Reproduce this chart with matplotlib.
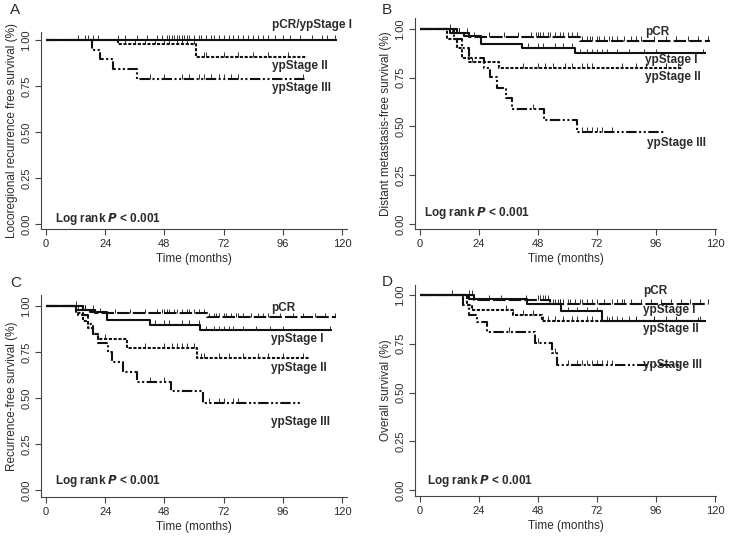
import matplotlib
matplotlib.use("Agg")
import matplotlib.pyplot as plt
import numpy as np

plt.rcParams['font.family'] = ['Liberation Sans', 'DejaVu Sans']

# ---- panel A: locoregional recurrence free survival
a_pcr_t = [0, 118]
a_pcr_s = [1.0, 1.0]
a_pcr_c = [13, 16, 17, 19, 21, 29, 32, 37, 41, 45, 47, 49, 50, 51, 52, 53, 54, 55, 56, 57, 58,
           60, 62, 63, 65, 67, 68, 70, 72, 74, 76, 78, 80, 82, 84, 86, 88, 90, 93, 96, 99, 103,
           108, 112, 114, 117]
a_ii_t = [0, 29, 61, 106]
a_ii_s = [1.0, 0.977, 0.909, 0.909]
a_ii_c = [32, 36, 40, 44, 48, 50, 53, 55, 57, 60, 64, 65, 72, 78, 84, 90, 98]
a_iii_t = [0, 18.5, 22, 27, 37, 105]
a_iii_s = [1.0, 0.948, 0.895, 0.842, 0.79, 0.79]
a_iii_c = [42, 48, 55, 58, 62, 64, 67, 70, 72, 75, 78, 104]

# ---- panel B: distant metastasis-free survival
b_pcr_t = [0, 15, 20, 65, 118]
b_pcr_s = [1.0, 0.98, 0.96, 0.94, 0.94]
b_pcr_c = [12, 15, 16, 19, 20, 28, 34, 40, 45, 47, 48, 49, 50, 52, 53, 55, 57, 58, 60, 62, 64,
           66, 68, 69, 70, 72, 73, 75, 77, 78, 80, 83, 86, 88, 90, 95, 100, 104, 109, 113, 117]
b_i_t = [0, 12, 18, 25, 41.5, 63, 116.5]
b_i_s = [1.0, 0.98, 0.962, 0.925, 0.904, 0.875, 0.875]
b_i_c = [13, 16, 22, 44, 48, 50, 55, 58, 62, 65, 68, 70, 72, 74, 76, 80, 85, 91, 96, 115]
b_ii_t = [0, 11, 15, 17, 20, 32, 107]
b_ii_s = [1.0, 0.95, 0.90, 0.85, 0.83, 0.80, 0.80]
b_ii_c = [21, 42, 48, 51, 54, 59, 62, 66, 68, 70, 82, 88, 92, 100, 105]
b_iii_t = [0, 14, 17, 20, 26, 28.5, 31.2, 35, 37.3, 50.6, 64, 99.5]
b_iii_s = [1.0, 0.95, 0.90, 0.85, 0.80, 0.752, 0.696, 0.645, 0.59, 0.533, 0.472, 0.472]
b_iii_c = [46, 66, 68, 70, 72, 74, 78]

# ---- panel C: recurrence-free survival
c_pcr_t = [0, 15, 20, 65.4, 117.6]
c_pcr_s = [1.0, 0.98, 0.96, 0.939, 0.939]
c_pcr_c = b_pcr_c
c_i_t = [0, 12, 18, 24.6, 42.2, 62.4, 115.8]
c_i_s = [1.0, 0.98, 0.966, 0.922, 0.898, 0.868, 0.868]
c_i_c = [13, 16, 22, 44, 48, 50, 55, 58, 62, 65, 68, 70, 72, 74, 76, 80, 85, 91, 96, 115]
c_ii_t = [0, 12, 15, 17, 19, 21, 32.7, 61.1, 106.7]
c_ii_s = [1.0, 0.96, 0.92, 0.88, 0.85, 0.822, 0.772, 0.717, 0.717]
c_ii_c = [24, 40, 48, 51, 53, 55, 57, 60, 63, 64, 70, 74, 80, 86, 90, 96, 104]
c_iii_t = [0, 13, 17, 19, 21, 25, 26.6, 31.1, 36.8, 50.5, 63.5, 103]
c_iii_s = [1.0, 0.95, 0.90, 0.85, 0.80, 0.75, 0.696, 0.641, 0.587, 0.536, 0.473, 0.473]
c_iii_c = [42, 48, 66, 70, 72, 76, 78]

# ---- panel D: overall survival
d_pcr_t = [0, 22, 53, 117]
d_pcr_s = [1.0, 0.975, 0.955, 0.955]
d_pcr_c = [13, 20, 21, 28, 33, 43, 48, 49, 50, 51, 52, 54, 55, 56, 57, 58, 60, 61, 63, 65, 66,
           68, 70, 72, 75, 78, 80, 82, 83, 86, 90, 94, 98, 102, 106, 110, 114, 117]
d_i_t = [0, 20, 43.5, 57.2, 74, 116.2]
d_i_s = [1.0, 0.981, 0.955, 0.916, 0.865, 0.865]
d_i_c = [57, 60, 64, 68, 72, 77, 82, 88, 95, 104, 113]
d_ii_t = [0, 19, 21, 38, 49.8, 115.5]
d_ii_s = [1.0, 0.95, 0.925, 0.899, 0.868, 0.868]
d_ii_c = [21, 35, 38, 42, 46, 50, 52, 55, 58, 62, 64, 68, 70, 74, 76, 78, 80, 85, 88, 95, 100,
          104, 114]
d_iii_t = [0, 17.5, 20, 23.3, 27.1, 46.7, 53.8, 55.9, 105.4]
d_iii_s = [1.0, 0.95, 0.899, 0.862, 0.81, 0.754, 0.703, 0.643, 0.643]
d_iii_c = [36, 48, 55, 60, 64, 66, 68, 70, 72, 74, 76, 78, 104]

ylabels = ["Locoregional recurrence free survival (%)", "Distant metastasis-free survival (%)",
           "Recurrence-free survival (%)", "Overall survival (%)"]

solid = '-'
dashed = (0, (6, 1.5))
dotted = (0, (1.5, 0.8))
dashdot = (0, (5, 1.2, 1, 1.2, 1, 1.2))

ink = '#111111'
txt = '#2b2b2b'

fig = plt.figure(figsize=(7.29, 5.37), dpi=100)
W, H = 729.0, 537.0


def make_axes(left, right, top, bottom, y1px, y0px, x0px, x120px):
    ax = fig.add_axes([left / W, 1 - bottom / H, (right - left) / W, (bottom - top) / H])
    ppu = (y0px - y1px)
    ppm = (x120px - x0px) / 120.0
    ax.set_ylim((y0px - bottom) / ppu, 1 + (y1px - top) / ppu)
    ax.set_xlim((left - x0px) / ppm, 120 + (right - x120px) / ppm)
    return ax


def draw_curve(ax, t, s, cens, ls, tick_h):
    ax.step(t, s, where='post', color=ink, lw=1.5, ls=ls, solid_capstyle='butt')
    t = np.array(t)
    s = np.array(s)
    c = np.array(cens)
    idx = np.searchsorted(t, c, side='right') - 1
    cy = s[idx]
    ax.vlines(c, cy, cy + tick_h, color=ink, lw=0.6)


def style(ax, name, ylabel, name_xy):
    for sp in ['top', 'right']:
        ax.spines[sp].set_visible(False)
    for sp in ['left', 'bottom']:
        ax.spines[sp].set_color('#444444')
        ax.spines[sp].set_linewidth(0.8)
    ax.set_xticks([0, 24, 48, 72, 96, 120])
    ax.set_yticks([0, 0.25, 0.5, 0.75, 1.0])
    ax.set_yticklabels(['0.00', '0.25', '0.50', '0.75', '1.00'], rotation=90, va='center')
    ax.tick_params(direction='out', length=4, width=0.8, colors='#444444', labelsize=8,
                   labelcolor=txt, pad=3)
    ax.set_xlabel("Time (months)", fontsize=8.5, color=txt, labelpad=3)
    ax.set_ylabel(ylabel, fontsize=8.5, color=txt, labelpad=2)
    fig.text(name_xy[0] / W, 1 - name_xy[1] / H, name, fontsize=11, color=txt,
             ha='left', va='center')


def label(ax, x, y, s):
    ax.text(x, y, s, fontsize=8.5, fontweight='bold', color=txt, ha='left', va='center',
            clip_on=False)


def logrank(ax, x, y):
    ax.text(x, y, "Log rank $\\bfit{P}$ < 0.001", fontsize=8.5, fontweight='bold', color=txt,
            ha='left', va='center')


# A
axA = make_axes(41, 347, 32, 229, 40, 224, 46, 342)
draw_curve(axA, a_pcr_t, a_pcr_s, a_pcr_c, solid, 0.025)
draw_curve(axA, a_ii_t, a_ii_s, a_ii_c, dotted, 0.025)
draw_curve(axA, a_iii_t, a_iii_s, a_iii_c, dashdot, 0.025)
style(axA, "A", ylabels[0], (10, 10))
label(axA, 91.5, 1.08, "pCR/ypStage I")
label(axA, 91.5, 0.859, "ypStage II")
label(axA, 91.5, 0.739, "ypStage III")
logrank(axA, 3.6, 0.025)

# B
axB = make_axes(415, 716, 18, 229, 29, 224, 420, 715)
draw_curve(axB, b_pcr_t, b_pcr_s, b_pcr_c, dashed, 0.024)
draw_curve(axB, b_i_t, b_i_s, b_i_c, solid, 0.024)
draw_curve(axB, b_ii_t, b_ii_s, b_ii_c, dotted, 0.024)
draw_curve(axB, b_iii_t, b_iii_s, b_iii_c, dashdot, 0.024)
style(axB, "B", ylabels[1], (382, 10))
label(axB, 91.4, 0.986, "pCR")
label(axB, 91.4, 0.841, "ypStage I")
label(axB, 91.4, 0.755, "ypStage II")
label(axB, 92.2, 0.417, "ypStage III")
logrank(axB, 1.6, 0.055)

# C
axC = make_axes(41, 347, 295, 497, 306, 490, 46, 342)
draw_curve(axC, c_pcr_t, c_pcr_s, c_pcr_c, dashed, 0.025)
draw_curve(axC, c_i_t, c_i_s, c_i_c, solid, 0.025)
draw_curve(axC, c_ii_t, c_ii_s, c_ii_c, dotted, 0.025)
draw_curve(axC, c_iii_t, c_iii_s, c_iii_c, dashdot, 0.025)
style(axC, "C", ylabels[2], (10, 283))
label(axC, 91.1, 0.989, "pCR")
label(axC, 91.1, 0.82, "ypStage I")
label(axC, 91.1, 0.663, "ypStage II")
label(axC, 91.1, 0.37, "ypStage III")
logrank(axC, 3.6, 0.047)

# D
axD = make_axes(415, 716, 285, 496, 295, 490, 420, 715)
draw_curve(axD, d_pcr_t, d_pcr_s, d_pcr_c, dashed, 0.024)
draw_curve(axD, d_i_t, d_i_s, d_i_c, solid, 0.024)
draw_curve(axD, d_ii_t, d_ii_s, d_ii_c, dotted, 0.024)
draw_curve(axD, d_iii_t, d_iii_s, d_iii_c, dashdot, 0.024)
style(axD, "D", ylabels[3], (382, 282))
label(axD, 90.9, 1.019, "pCR")
label(axD, 90.9, 0.925, "ypStage I")
label(axD, 90.9, 0.826, "ypStage II")
label(axD, 90.9, 0.643, "ypStage III")
logrank(axD, 3.0, 0.044)

fig.savefig("out.png", dpi=100)
